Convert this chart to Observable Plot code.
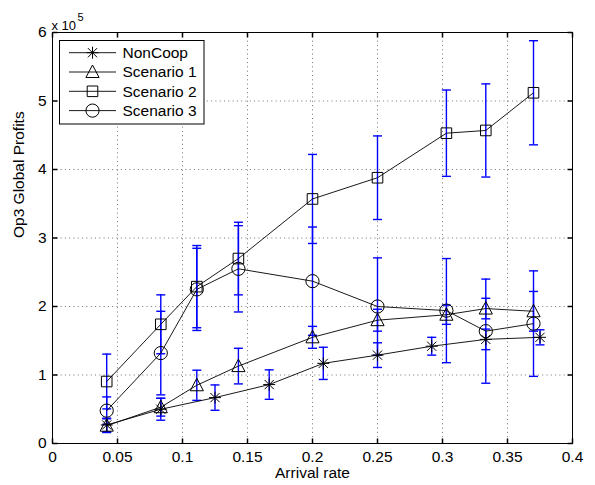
<!DOCTYPE html>
<html>
<head>
<meta charset="utf-8">
<script src="https://cdn.jsdelivr.net/npm/d3@7"></script>
<script src="https://cdn.jsdelivr.net/npm/@observablehq/plot@0.6"></script>
<style>
  html, body { margin: 0; padding: 0; background: #fff; }
  #chart { width: 595px; height: 485px; }
</style>
</head>
<body>
<div id="chart"></div>
<script>
// ---- Data (values in units of 10^5) ----
const seriesNames = ["NonCoop", "Scenario 1", "Scenario 2", "Scenario 3"];

const nonCoopX   = [0.0417, 0.0833, 0.125, 0.1667, 0.2083, 0.25, 0.2917, 0.3333, 0.375];
const nonCoopY   = [0.27, 0.50, 0.67, 0.86, 1.17, 1.29, 1.42, 1.52, 1.55];
const nonCoopErr = [0.10, 0.16, 0.185, 0.215, 0.235, 0.18, 0.13, 0.15, 0.11];

const scenarioX  = [0.0417, 0.0833, 0.111, 0.143, 0.2, 0.25, 0.303, 0.3333, 0.370];
const scen1Y     = [0.26, 0.53, 0.85, 1.13, 1.55, 1.80, 1.88, 1.97, 1.93];
const scen1Err   = [0.10, 0.13, 0.22, 0.26, 0.16, 0.16, 0.14, 0.15, 0.29];
const scen2Y     = [0.905, 1.74, 2.29, 2.70, 3.57, 3.88, 4.53, 4.57, 5.12];
const scen2Err   = [0.40, 0.43, 0.60, 0.53, 0.65, 0.61, 0.63, 0.68, 0.76];
const scen3Y     = [0.48, 1.32, 2.25, 2.55, 2.37, 2.00, 1.94, 1.64, 1.75];
const scen3Err   = [0.20, 0.61, 0.60, 0.63, 0.79, 0.71, 0.76, 0.76, 0.77];

const xTicks = [0, 0.05, 0.1, 0.15, 0.2, 0.25, 0.3, 0.35, 0.4];
const yTicks = [0, 1, 2, 3, 4, 5, 6];
const xLabel = "Arrival rate";
const yLabel = "Op3 Global Profits";
const expLabel = "x 10";
const expPower = "5";

// ---- Build rows ----
function rowsFor(name, xs, ys, es) {
  return xs.map((x, i) => ({series: name, x, y: ys[i], e: es[i]}));
}
const rows = [
  ...rowsFor("NonCoop", nonCoopX, nonCoopY, nonCoopErr),
  ...rowsFor("Scenario 1", scenarioX, scen1Y, scen1Err),
  ...rowsFor("Scenario 2", scenarioX, scen2Y, scen2Err),
  ...rowsFor("Scenario 3", scenarioX, scen3Y, scen3Err)
];

// ---- Custom marker symbols (MATLAB style) ----
const starSym = {draw(ctx) {
  const r = 6, d = 4.6;
  ctx.moveTo(0, -r); ctx.lineTo(0, r);
  ctx.moveTo(-r, 0); ctx.lineTo(r, 0);
  ctx.moveTo(-d, -d); ctx.lineTo(d, d);
  ctx.moveTo(-d, d); ctx.lineTo(d, -d);
}};
const triSym = {draw(ctx) {
  ctx.moveTo(0, -7); ctx.lineTo(6.6, 5.5); ctx.lineTo(-6.6, 5.5); ctx.closePath();
}};
const sqSym = {draw(ctx) {
  ctx.moveTo(-5.3, -5.3); ctx.lineTo(5.3, -5.3); ctx.lineTo(5.3, 5.3); ctx.lineTo(-5.3, 5.3); ctx.closePath();
}};
const circSym = {draw(ctx) {
  ctx.moveTo(6.6, 0); ctx.arc(0, 0, 6.6, 0, 2 * Math.PI);
}};
const symbols = [starSym, triSym, sqSym, circSym];

const capSym = {draw(ctx) { ctx.moveTo(-4.5, 0); ctx.lineTo(4.5, 0); }};
const tickUp = {draw(ctx) { ctx.moveTo(0, 0); ctx.lineTo(0, -5); }};
const tickDown = {draw(ctx) { ctx.moveTo(0, 0); ctx.lineTo(0, 5); }};
const tickRight = {draw(ctx) { ctx.moveTo(0, 0); ctx.lineTo(5, 0); }};
const tickLeft = {draw(ctx) { ctx.moveTo(0, 0); ctx.lineTo(-5, 0); }};

const FS = 15.5;
const blue = "#0000ff";

const chart = Plot.plot({
  width: 595,
  height: 485,
  marginLeft: 52,
  marginRight: 23,
  marginTop: 32,
  marginBottom: 42,
  x: {domain: [0, 0.4]},
  y: {domain: [0, 6]},
  symbol: {domain: seriesNames, range: symbols},
  style: {fontFamily: "'Liberation Sans', Arial, Helvetica, sans-serif", fontSize: FS + "px", background: "#fff", color: "#000"},
  marks: [
    Plot.gridX(xTicks, {stroke: "#000", strokeOpacity: 0.55, strokeDasharray: "1,3.3"}),
    Plot.gridY(yTicks, {stroke: "#000", strokeOpacity: 0.55, strokeDasharray: "1,3.3"}),
    // error bars
    Plot.ruleX(rows, {x: "x", y1: d => d.y - d.e, y2: d => d.y + d.e, stroke: blue, strokeWidth: 1.4}),
    Plot.dot(rows, {x: "x", y: d => d.y - d.e, symbol: capSym, stroke: blue, strokeWidth: 1.4, fill: "none"}),
    Plot.dot(rows, {x: "x", y: d => d.y + d.e, symbol: capSym, stroke: blue, strokeWidth: 1.4, fill: "none"}),
    // lines and markers
    Plot.line(rows, {x: "x", y: "y", z: "series", stroke: "#000", strokeWidth: 0.9}),
    Plot.dot(rows, {x: "x", y: "y", symbol: "series", stroke: "#000", strokeWidth: 1, fill: "none"}),
    // frame & inner ticks
    Plot.frame({stroke: "#000", strokeWidth: 1}),
    Plot.dot(xTicks, {x: d => d, frameAnchor: "bottom", symbol: tickUp, stroke: "#000", fill: "none"}),
    Plot.dot(xTicks, {x: d => d, frameAnchor: "top", symbol: tickDown, stroke: "#000", fill: "none"}),
    Plot.dot(yTicks, {y: d => d, frameAnchor: "left", symbol: tickRight, stroke: "#000", fill: "none"}),
    Plot.dot(yTicks, {y: d => d, frameAnchor: "right", symbol: tickLeft, stroke: "#000", fill: "none"}),
    // axes
    Plot.axisX(xTicks, {tickSize: 0, tickPadding: 7, tickFormat: d3.format("~g"), label: null, fontSize: FS}),
    Plot.axisY(yTicks, {tickSize: 0, tickPadding: 6, tickFormat: d3.format("~g"), label: null, fontSize: FS}),
    Plot.text([xLabel], {frameAnchor: "bottom", dy: 34, text: d => d, fontSize: FS, fill: "#000"}),
    Plot.text([yLabel], {frameAnchor: "left", dx: -33, rotate: -90, text: d => d, fontSize: FS, fill: "#000"}),
    Plot.text([expLabel], {frameAnchor: "top-left", textAnchor: "start", dx: -1, dy: -12, text: d => d, fontSize: 13, fill: "#000"}),
    Plot.text([expPower], {frameAnchor: "top-left", textAnchor: "start", dx: 25, dy: -19, text: d => d, fontSize: 11, fill: "#000"})
  ]
});

document.getElementById("chart").appendChild(chart);

// ---- Legend inside the plot (upper-left) ----
const svg = d3.select(chart);
const lg = svg.append("g").attr("class", "legend");
lg.append("rect")
  .attr("x", 59.5).attr("y", 40.5).attr("width", 144.5).attr("height", 83.5)
  .attr("fill", "#fff").attr("stroke", "#000").attr("stroke-width", 1);
seriesNames.forEach((name, i) => {
  const cy = 52.7 + i * 19.3;
  const row = lg.append("g");
  row.append("line").attr("x1", 69).attr("x2", 116).attr("y1", cy).attr("y2", cy)
    .attr("stroke", "#000").attr("stroke-width", 0.9);
  row.append("path").attr("d", d3.symbol(symbols[i])()).attr("transform", `translate(92.5,${cy})`)
    .attr("fill", "none").attr("stroke", "#000").attr("stroke-width", 1);
  row.append("text").attr("x", 122.5).attr("y", cy).attr("dy", "0.35em")
    .attr("text-anchor", "start").attr("font-size", FS).attr("fill", "#000").text(name);
});
</script>
</body>
</html>
